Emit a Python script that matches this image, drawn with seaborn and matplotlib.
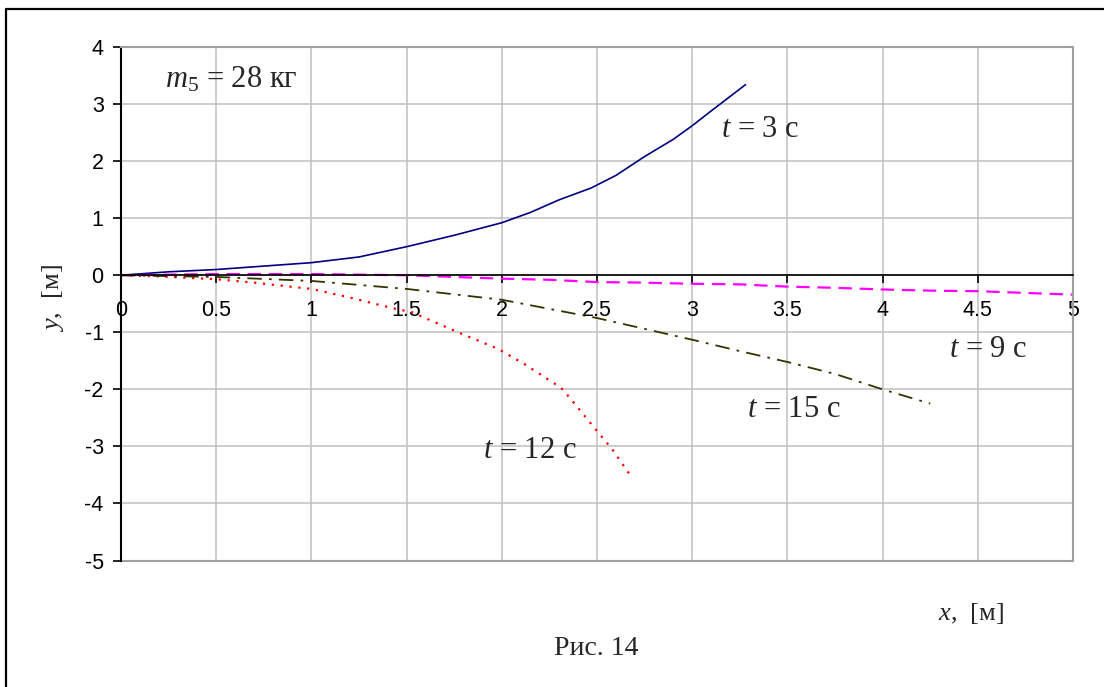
import matplotlib.pyplot as plt
import seaborn as sns
import pandas as pd
from matplotlib.lines import Line2D

# values
x_t3 = [0, 0.25, 0.5, 0.75, 1.0, 1.25, 1.5, 1.75, 2.0, 2.15, 2.3, 2.47, 2.6, 2.75, 2.9, 3.0, 3.1, 3.28]
y_t3 = [0, 0.06, 0.1, 0.16, 0.22, 0.32, 0.5, 0.7, 0.92, 1.1, 1.32, 1.53, 1.75, 2.08, 2.38, 2.62, 2.88, 3.34]

x_t9 = [0, 0.25, 0.5, 0.75, 1.0, 1.25, 1.5, 1.75, 2.0, 2.25, 2.5, 2.75, 3.0, 3.25, 3.5, 3.75, 4.0, 4.25, 4.5, 4.75, 5.0]
y_t9 = [0, 0.01, 0.02, 0.02, 0.02, 0.01, 0, -0.03, -0.06, -0.08, -0.12, -0.13, -0.15, -0.16, -0.2, -0.22, -0.25, -0.27, -0.28, -0.31, -0.34]

x_t12 = [0, 0.19, 0.5, 0.7, 1.0, 1.2, 1.43, 1.53, 1.77, 1.98, 2.12, 2.31, 2.35, 2.5, 2.58, 2.68]
y_t12 = [0, -0.02, -0.07, -0.13, -0.24, -0.39, -0.58, -0.65, -1.0, -1.29, -1.56, -1.97, -2.12, -2.73, -3.05, -3.53]

x_t15 = [0, 0.5, 1.0, 1.5, 2.0, 2.5, 2.75, 3.0, 3.25, 3.5, 3.75, 4.0, 4.25]
y_t15 = [0, -0.03, -0.1, -0.24, -0.43, -0.75, -0.94, -1.13, -1.33, -1.52, -1.73, -2.0, -2.25]

x_ticks = [0, 0.5, 1, 1.5, 2, 2.5, 3, 3.5, 4, 4.5, 5]
x_tick_labels = ["0", "0.5", "1", "1.5", "2", "2.5", "3", "3.5", "4", "4.5", "5"]
y_ticks = [-5, -4, -3, -2, -1, 0, 1, 2, 3, 4]

sns.set_style("white")
plt.rcParams["font.family"] = ["Liberation Sans", "DejaVu Sans"]
plt.rcParams["axes.unicode_minus"] = False
plt.rcParams["mathtext.fontset"] = "custom"
plt.rcParams["mathtext.it"] = "Liberation Serif:italic"
plt.rcParams["mathtext.rm"] = "Liberation Serif"

fig = plt.figure(figsize=(11.04, 6.87), dpi=100)
ax = fig.add_axes([0.1096, 0.1841, 0.8623, 0.7475])

curves = [
    (x_t3, y_t3, "#000080", "-", 1.2),
    (x_t9, y_t9, "#FF00FF", (0, (6, 3.5)), 1.6),
    (x_t12, y_t12, "#FF0000", (0, (1, 3)), 1.6),
    (x_t15, y_t15, "#333300", (0, (8, 4, 1.5, 4)), 1.3),
]
for xs, ys, col, ls, lw in curves:
    df = pd.DataFrame({"x": xs, "y": ys})
    sns.lineplot(data=df, x="x", y="y", ax=ax, color=col, linestyle=ls,
                 linewidth=lw, sort=False, estimator=None)

ax.set_xlim(0, 5)
ax.set_ylim(-5, 4)
ax.set_xticks(x_ticks)
ax.set_xticklabels(x_tick_labels)
ax.set_yticks(y_ticks)
ax.grid(True, color="#c0c0c0", linewidth=1.1)
ax.set_axisbelow(True)

ax.spines["left"].set_color("black")
ax.spines["left"].set_linewidth(1.5)
ax.spines["bottom"].set_position(("data", 0))
ax.spines["bottom"].set_color("black")
ax.spines["bottom"].set_linewidth(1.2)
ax.spines["bottom"].set_zorder(3)
for s in ["top", "right"]:
    ax.spines[s].set_color("#a0a0a0")
    ax.spines[s].set_linewidth(1.5)
ax.axhline(-5, color="#a0a0a0", linewidth=1.5, clip_on=False)

ax.tick_params(axis="both", direction="out", length=5.5, width=1.2,
               color="black", labelsize=15.5, labelcolor="black")
ax.tick_params(axis="x", pad=12, bottom=True)
ax.tick_params(axis="y", pad=7, left=True)
ax.set_xlabel("")
ax.set_ylabel("")

serif = {"family": "Liberation Serif", "size": 22}
ax.text(0.23, 3.29, r"$m_{\mathit{5}}$ = 28 кг", fontdict=serif, va="baseline")
ax.text(3.15, 2.43, r"$t$ = 3 с", fontdict=serif, va="baseline")
ax.text(4.35, -1.44, r"$t$ = 9 с", fontdict=serif, va="baseline")
ax.text(3.29, -2.48, r"$t$ = 15 с", fontdict=serif, va="baseline")
ax.text(1.90, -3.2, r"$t$ = 12 с", fontdict=serif, va="baseline")

fig.text(0.8496, 0.0975, r"$x$,  [м]", fontdict={"family": "Liberation Serif", "size": 19},
         va="baseline")
fig.text(0.048, 0.566, r"$y$,  [м]", fontdict={"family": "Liberation Serif", "size": 19},
         rotation=90, ha="center", va="center")
fig.text(0.5403, 0.0466, "Рис. 14", fontdict={"family": "Liberation Serif", "size": 20},
         ha="center", va="baseline")

# outer frame of the figure
fig.add_artist(Line2D([0.0054, 0.0054], [-0.1, 0.987], transform=fig.transFigure,
                      color="black", linewidth=1.6))
fig.add_artist(Line2D([0.0054, 1.1], [0.987, 0.987], transform=fig.transFigure,
                      color="black", linewidth=1.6))

fig.savefig("out.png", dpi=100)
